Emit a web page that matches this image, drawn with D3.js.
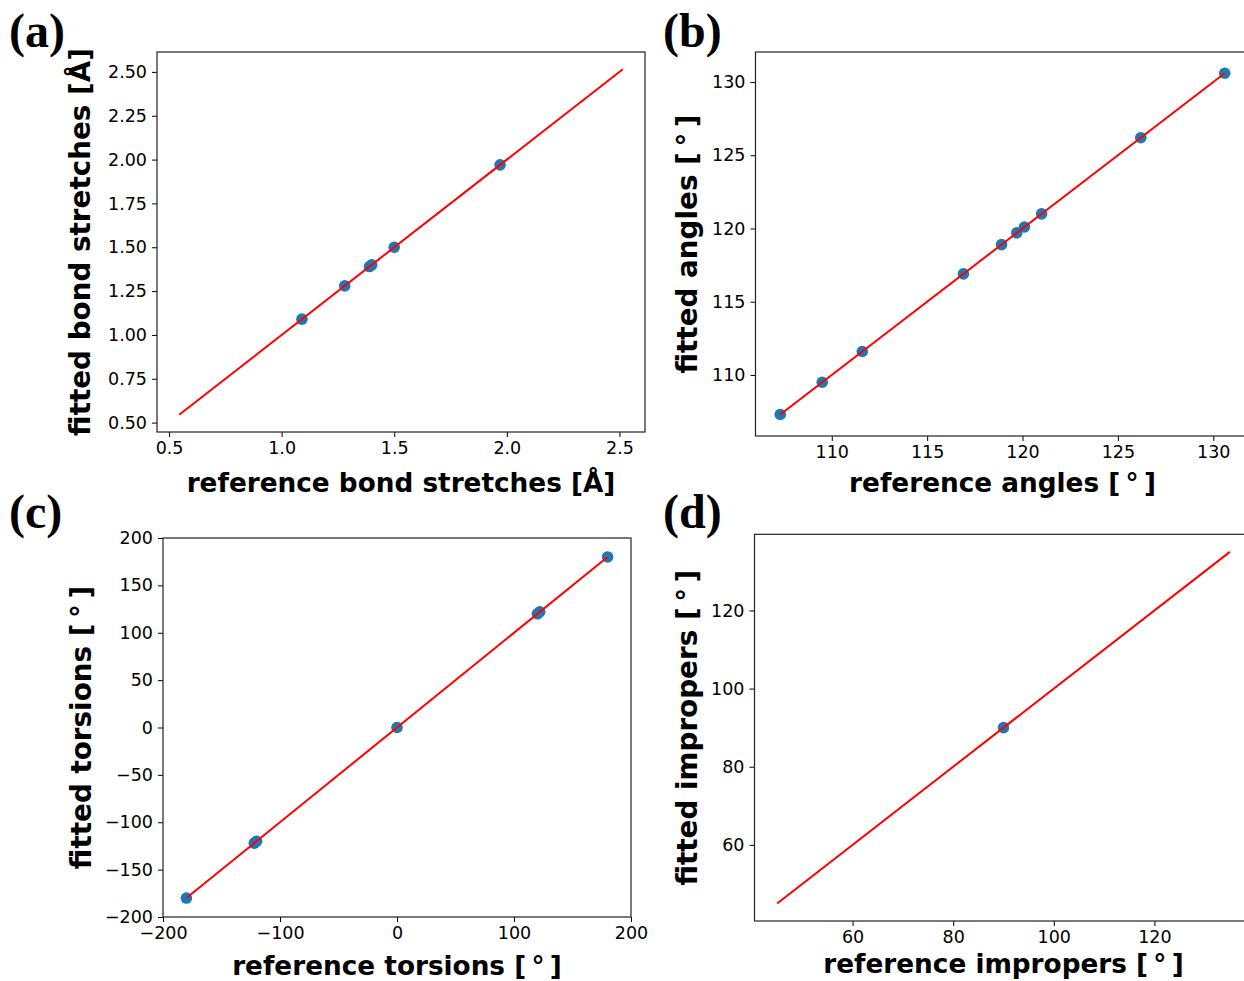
<!DOCTYPE html>
<html>
<head>
<meta charset="utf-8">
<script src="https://d3js.org/d3.v7.min.js"></script>
<style>
	body { margin: 0; background: #fff; }
	svg { display: block; }
	.tick text { font-family: "DejaVu Sans", sans-serif; font-size: 17.5px; fill: #000; }
	.tick line { stroke: #000; }
	.lab { font-family: "DejaVu Sans", sans-serif; font-weight: bold; font-size: 26.3px; fill: #000; }
	.ylab { font-size: 27.8px; }
	.letter { font-family: "Liberation Serif", "Times New Roman", serif; font-weight: bold; font-size: 48px; fill: #000; }
</style>
</head>
<body>
<script>
// (a) bond stretches [Å]
var bondRef = [1.09, 1.28, 1.39, 1.40, 1.50, 1.97];
var bondFit = [1.09, 1.28, 1.39, 1.40, 1.50, 1.97];
var bondLine = [0.545, 2.515];
var bondXTicks = [0.5, 1.0, 1.5, 2.0, 2.5];
var bondYTicks = [0.5, 0.75, 1.0, 1.25, 1.5, 1.75, 2.0, 2.25, 2.5];

// (b) angles [deg]
var angRef = [107.3, 109.5, 111.6, 116.9, 118.9, 119.7, 120.1, 121.0, 126.2, 130.6];
var angFit = [107.3, 109.5, 111.6, 116.9, 118.9, 119.7, 120.1, 121.0, 126.2, 130.6];
var angLine = [107.3, 130.6];
var angTicks = [110, 115, 120, 125, 130];

// (c) torsions [deg]
var torRef = [-180, -122, -120, 0, 120, 122, 180];
var torFit = [-180, -122, -120, 0, 120, 122, 180];
var torLine = [-180, 180];
var torXTicks = [-200, -100, 0, 100, 200];
var torYTicks = [-200, -150, -100, -50, 0, 50, 100, 150, 200];

// (d) impropers [deg]
var impRef = [90];
var impFit = [90];
var impLine = [45, 135];
var impTicks = [60, 80, 100, 120];

var deg = "[\u2009\u00b0\u2009]";

var svg = d3.select("body").append("svg").attr("width", 1244).attr("height", 981);

function panel(p) {
	var x = d3.scaleLinear().domain(p.xDom).range([p.l, p.r]);
	var y = d3.scaleLinear().domain(p.yDom).range([p.b, p.t]);
	var g = svg.append("g");

	g.append("g").attr("transform", "translate(0," + p.b + ")")
		.call(d3.axisBottom(x).tickValues(p.xTicks).tickFormat(d3.format(p.xFmt)).tickSize(5).tickPadding(5))
		.call(function(a) { a.select(".domain").remove(); });
	g.append("g").attr("transform", "translate(" + p.l + ",0)")
		.call(d3.axisLeft(y).tickValues(p.yTicks).tickFormat(d3.format(p.yFmt)).tickSize(5).tickPadding(5))
		.call(function(a) { a.select(".domain").remove(); });

	g.selectAll("circle").data(d3.zip(p.ref, p.fit)).enter().append("circle")
		.attr("cx", function(d) { return x(d[0]); })
		.attr("cy", function(d) { return y(d[1]); })
		.attr("r", 5.8)
		.attr("fill", "#1f77b4");

	// red y = x guide drawn over the points
	g.append("path").datum(p.line)
		.attr("d", d3.line().x(function(d) { return x(d); }).y(function(d) { return y(d); }))
		.attr("stroke", "red").attr("stroke-width", 2).attr("fill", "none");

	g.append("rect").attr("x", p.l).attr("y", p.t)
		.attr("width", p.r - p.l).attr("height", p.b - p.t)
		.attr("fill", "none").attr("stroke", "#222").attr("stroke-width", 1.2);

	g.append("text").attr("class", "lab").attr("text-anchor", "middle")
		.attr("x", (p.l + p.r) / 2).attr("y", p.xlabY).text(p.xlab);
	g.append("text").attr("class", "lab ylab").attr("text-anchor", "middle")
		.attr("transform", "translate(" + p.ylabX + "," + (p.t + p.b) / 2 + ") rotate(-90)")
		.text(p.ylab);
	g.append("text").attr("class", "letter").attr("x", p.lx).attr("y", p.ly).text(p.letter);
}

panel({ l: 157, t: 52, r: 645, b: 432, xDom: [0.4465, 2.6135], yDom: [0.4465, 2.6135],
	xTicks: bondXTicks, yTicks: bondYTicks, xFmt: ".1f", yFmt: ".2f",
	ref: bondRef, fit: bondFit, line: bondLine,
	xlab: "reference bond stretches [Å]", ylab: "fitted bond stretches [Å]",
	xlabY: 492, ylabX: 90, letter: "(a)", lx: 9, ly: 47 });

panel({ l: 755.5, t: 52, r: 1249.5, b: 436, xDom: [106.0, 131.9], yDom: [105.83, 132.05],
	xTicks: angTicks, yTicks: angTicks, xFmt: "d", yFmt: "d",
	ref: angRef, fit: angFit, line: angLine,
	xlab: "reference angles " + deg, ylab: "fitted angles " + deg,
	xlabY: 492, ylabX: 697, letter: "(b)", lx: 663, ly: 47 });

panel({ l: 163, t: 538, r: 631, b: 917, xDom: [-200, 200], yDom: [-200, 200],
	xTicks: torXTicks, yTicks: torYTicks, xFmt: "d", yFmt: "d",
	ref: torRef, fit: torFit, line: torLine,
	xlab: "reference torsions " + deg, ylab: "fitted torsions " + deg,
	xlabY: 975, ylabX: 91, letter: "(c)", lx: 9, ly: 528 });

panel({ l: 754.5, t: 534.3, r: 1252.5, b: 921, xDom: [40.5, 139.5], yDom: [40.5, 139.5],
	xTicks: impTicks, yTicks: impTicks, xFmt: "d", yFmt: "d",
	ref: impRef, fit: impFit, line: impLine,
	xlab: "reference impropers " + deg, ylab: "fitted impropers " + deg,
	xlabY: 973, ylabX: 697, letter: "(d)", lx: 663, ly: 528 });
</script>
</body>
</html>
